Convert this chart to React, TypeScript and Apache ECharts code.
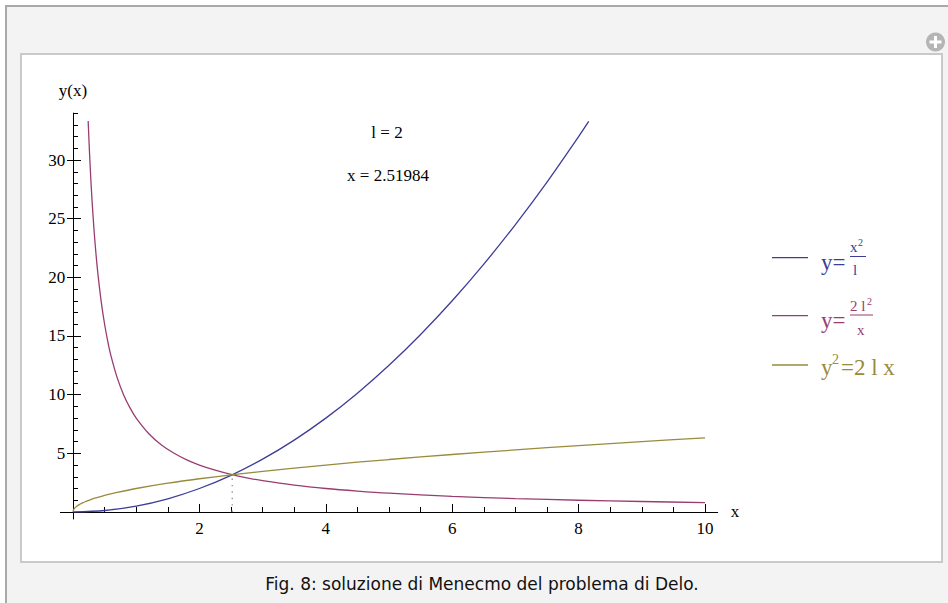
import React, { useEffect, useRef } from "react";
import * as echarts from "echarts";

// l = 2 : the three curves of Menaechmus' construction
const blueX = [0, 0.5, 1, 1.5, 2, 2.5, 3, 3.5, 4, 4.5, 5, 5.5, 6, 6.5, 7, 7.5, 8, 8.16];
const blueY = [0, 0.125, 0.5, 1.125, 2, 3.125, 4.5, 6.125, 8, 10.125, 12.5, 15.125, 18, 21.125, 24.5, 28.125, 32, 33.29];

const redX = [0.24, 0.26, 0.28, 0.3, 0.33, 0.36, 0.4, 0.45, 0.5, 0.55, 0.6, 0.7, 0.8, 0.9, 1, 1.2, 1.4, 1.6, 1.8, 2, 2.25, 2.5, 2.75, 3, 3.5, 4, 4.5, 5, 6, 7, 8, 9, 10];
const redY = [33.33, 30.77, 28.57, 26.67, 24.24, 22.22, 20, 17.78, 16, 14.55, 13.33, 11.43, 10, 8.89, 8, 6.67, 5.71, 5, 4.44, 4, 3.56, 3.2, 2.91, 2.67, 2.29, 2, 1.78, 1.6, 1.33, 1.14, 1, 0.89, 0.8];

const oliveX = [0, 0.01, 0.03, 0.06, 0.1, 0.15, 0.2, 0.3, 0.4, 0.5, 0.7, 1, 1.5, 2, 2.5, 3, 4, 5, 6, 7, 8, 9, 10];
const oliveY = [0, 0.2, 0.35, 0.49, 0.63, 0.77, 0.89, 1.1, 1.26, 1.41, 1.67, 2, 2.45, 2.83, 3.16, 3.46, 4, 4.47, 4.9, 5.29, 5.66, 6, 6.32];

// intersection point
const crossX = 2.51984;
const crossY = 3.1748;

const xMajorTicks = [2, 4, 6, 8, 10];
const xMinorTicks = [0.5, 1, 1.5, 2.5, 3, 3.5, 4.5, 5, 5.5, 6.5, 7, 7.5, 8.5, 9, 9.5];
const yMajorTicks = [5, 10, 15, 20, 25, 30];
const yMinorTicks = [1, 2, 3, 4, 6, 7, 8, 9, 11, 12, 13, 14, 16, 17, 18, 19, 21, 22, 23, 24, 26, 27, 28, 29, 31, 32, 33, 34];

const BLUE = "#3d3d99";
const RED = "#993d71";
const OLIVE = "#998b3d";
const SERIF = "'Liberation Serif', 'Times New Roman', serif";

const zip = (xs: number[], ys: number[]) => xs.map((x, i) => [x, ys[i]]);

export default function App() {
  const ref = useRef<HTMLDivElement>(null);

  useEffect(() => {
    if (!ref.current) return;
    const chart = echarts.init(ref.current, null, { renderer: "svg" });

    const baseX = {
      type: "value",
      min: -0.2,
      max: 10.2,
      position: "bottom",
      splitLine: { show: false },
    };
    const baseY = {
      type: "value",
      min: -0.6,
      max: 34,
      position: "left",
      splitLine: { show: false },
    };

    const curve = (name: string, data: number[][], color: string) => ({
      name,
      type: "line",
      data,
      showSymbol: false,
      smooth: 0.3,
      lineStyle: { color, width: 1.3 },
      z: 3,
    });

    const legendEntry = (y: number, color: string) => ({
      type: "line",
      shape: { x1: 772, y1: y, x2: 808, y2: y },
      style: { stroke: color, lineWidth: 1.3 },
    });
    const txt = (x: number, y: number, text: string, size: number, color: string, align = "left") => ({
      type: "text",
      x,
      y,
      style: {
        text,
        fontSize: size,
        fontFamily: SERIF,
        fill: color,
        align,
        verticalAlign: "middle",
      },
    });
    const bar = (x1: number, x2: number, y: number, color: string) => ({
      type: "line",
      shape: { x1, y1: y, x2, y2: y },
      style: { stroke: color, lineWidth: 1 },
    });

    chart.setOption({
      animation: false,
      grid: {
        left: 60.36,
        top: 113.1,
        width: 657.3,
        height: 405.9,
        containLabel: false,
        outerBoundsMode: "none",
      },
      xAxis: [
        {
          ...baseX,
          name: "x",
          nameLocation: "end",
          nameGap: 13,
          nameTextStyle: { fontSize: 17, fontFamily: SERIF, color: "#000", verticalAlign: "middle" },
          axisLine: { show: true, onZero: true, onZeroAxisIndex: 0, lineStyle: { color: "#000", width: 1 } },
          axisTick: { show: true, inside: true, length: 8, customValues: xMajorTicks, lineStyle: { color: "#000" } },
          axisLabel: { show: true, customValues: xMajorTicks, fontSize: 17, fontFamily: SERIF, color: "#000", margin: 0.5 },
        },
        {
          ...baseX,
          axisLine: { show: false, onZero: true, onZeroAxisIndex: 0 },
          axisTick: { show: true, inside: true, length: 5, customValues: xMinorTicks, lineStyle: { color: "#000" } },
          axisLabel: { show: false },
        },
      ],
      yAxis: [
        {
          ...baseY,
          name: "y(x)",
          nameLocation: "end",
          nameGap: 14,
          nameTextStyle: { fontSize: 17, fontFamily: SERIF, color: "#000", align: "center" },
          axisLine: { show: true, onZero: true, onZeroAxisIndex: 0, lineStyle: { color: "#000", width: 1 } },
          axisTick: { show: true, inside: true, length: 8, customValues: yMajorTicks, lineStyle: { color: "#000" } },
          axisLabel: { show: true, customValues: yMajorTicks, fontSize: 17, fontFamily: SERIF, color: "#000", margin: -5 },
        },
        {
          ...baseY,
          axisLine: { show: false, onZero: true, onZeroAxisIndex: 0 },
          axisTick: { show: true, inside: false, length: 6, customValues: yMajorTicks, lineStyle: { color: "#000" } },
          axisLabel: { show: false },
        },
        {
          ...baseY,
          axisLine: { show: false, onZero: true, onZeroAxisIndex: 0 },
          axisTick: { show: true, inside: true, length: 5, customValues: yMinorTicks, lineStyle: { color: "#000" } },
          axisLabel: { show: false },
        },
      ],
      series: [
        {
          name: "crossing",
          type: "line",
          data: [[crossX, 0], [crossX, crossY]],
          showSymbol: false,
          lineStyle: { color: "#9a9a9a", width: 1.4, type: [1.4, 5] },
          z: 2,
        },
        curve("y=x^2/l", zip(blueX, blueY), BLUE),
        curve("y=2l^2/x", zip(redX, redY), RED),
        curve("y^2=2lx", zip(oliveX, oliveY), OLIVE),
      ],
      graphic: [
        // page frame
        {
          type: "rect",
          shape: { x: 6, y: 6, width: 960, height: 620 },
          style: { fill: "#f3f3f3", stroke: "#a9a9a9", lineWidth: 2 },
          z: -10,
        },
        {
          type: "rect",
          shape: { x: 21, y: 54, width: 921, height: 508 },
          style: { fill: "#ffffff", stroke: "#c9c9c9", lineWidth: 2 },
          z: -9,
        },
        // zoom button
        { type: "circle", shape: { cx: 935.5, cy: 42, r: 9.5 }, style: { fill: "#b5b5b5" }, z: 5 },
        { type: "rect", shape: { x: 929.5, y: 40.5, width: 12, height: 3 }, style: { fill: "#ffffff" }, z: 6 },
        { type: "rect", shape: { x: 934, y: 36, width: 3, height: 12 }, style: { fill: "#ffffff" }, z: 6 },
        // caption
        {
          type: "text",
          x: 482,
          y: 584,
          style: {
            text: "Fig. 8: soluzione di Menecmo del problema di Delo.",
            fontSize: 17,
            fontFamily: "'DejaVu Sans', Verdana, sans-serif",
            fill: "#111",
            align: "center",
            verticalAlign: "middle",
          },
        },
        // annotations
        txt(387, 132, "l = 2", 17, "#000", "center"),
        txt(388, 175, "x = 2.51984", 17, "#000", "center"),
        // legend: y = x^2 / l
        legendEntry(257.7, BLUE),
        txt(821, 262, "y=", 23, BLUE),
        txt(850, 247, "x", 15, BLUE),
        txt(858, 242, "2", 10, BLUE),
        bar(850, 866, 256.5, BLUE),
        txt(853, 270, "l", 15, BLUE),
        // legend: y = 2 l^2 / x
        legendEntry(315.7, RED),
        txt(821, 320, "y=", 23, RED),
        txt(850, 305.5, "2 l", 15, RED),
        txt(867, 301, "2", 10, RED),
        bar(850, 873, 315, RED),
        txt(857, 329.5, "x", 15, RED),
        // legend: y^2 = 2 l x
        legendEntry(365, OLIVE),
        txt(821, 367, "y", 23, OLIVE),
        txt(832, 359, "2", 14, OLIVE),
        txt(841, 367, "=2 l x", 23, OLIVE),
      ],
    });

    return () => chart.dispose();
  }, []);

  return (
    <div
      ref={ref}
      style={{ position: "absolute", left: 0, top: 0, width: 948, height: 603, background: "#ffffff" }}
    />
  );
}
